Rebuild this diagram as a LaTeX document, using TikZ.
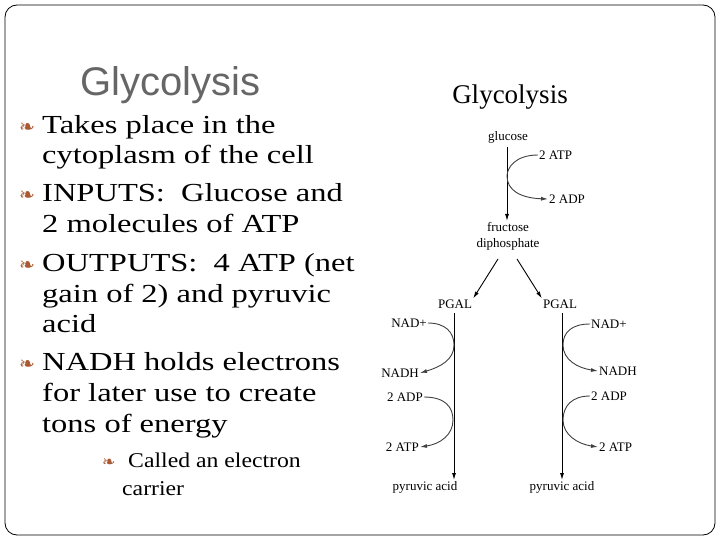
\documentclass[tikz,border=0pt]{standalone}
\usepackage{fontspec}
\setmainfont{Liberation Serif}
\newfontfamily\bigserif[FakeStretch=1.25]{Liberation Serif}
\newfontfamily\subserif[FakeStretch=1.13]{Liberation Serif}
\newfontfamily\headfont{Liberation Sans}
\newfontfamily\symfont{DejaVu Sans}
\usetikzlibrary{arrows.meta}
\definecolor{bul}{RGB}{170,90,50}
\begin{document}
\begin{tikzpicture}[x=1pt,y=-1pt,
  bt/.style={anchor=base west,font=\bigserif\fontsize{26}{26}\selectfont,inner sep=0},
  st/.style={anchor=base west,font=\subserif\fontsize{21}{21}\selectfont,inner sep=0},
  bu/.style={anchor=base west,inner sep=0,text=bul,font=\symfont\fontsize{19}{19}\selectfont},
  lb/.style={font=\fontsize{13}{13}\selectfont,inner sep=1pt},
  ar/.style={-{Latex[length=7pt,width=4pt]},line width=0.9pt},
  cv/.style={-{Latex[length=7pt,width=4pt]},line width=0.9pt,draw=black!75}]
\useasboundingbox (0,0) rectangle (720,540);
\draw[rounded corners=12pt,line width=0.8pt] (5,5) rectangle (715,535);
\node[anchor=base west,inner sep=0,text=black!60,font=\headfont\fontsize{40}{40}\selectfont] (t) at (80,96) {Glycolysis};
% bullets
\foreach \y/\n in {134/b1,202/b2,271/b3,370/b4} \node[bu] (\n) at (19,\y) {❧};
\node[bt] (l1) at (42,134) {Takes place in the};
\node[bt] (l2) at (42,164) {cytoplasm of the cell};
\node[bt] (l3) at (42,202) {INPUTS:\ \ Glucose and};
\node[bt] (l4) at (42,233) {2 molecules of ATP};
\node[bt] (l5) at (42,271) {OUTPUTS:\ \ 4 ATP (net};
\node[bt] (l6) at (42,302) {gain of 2) and pyruvic};
\node[bt] (l7) at (42,332) {acid};
\node[bt] (l8) at (42,370) {NADH holds electrons};
\node[bt] (l9) at (42,401) {for later use to create};
\node[bt] (l10) at (42,432) {tons of energy};
\node[bu,font=\symfont\fontsize{16}{16}\selectfont] (b5) at (102,467) {❧};
\node[st] (l11) at (128,467) {Called an electron};
\node[st] (l12) at (122,495) {carrier};
% diagram
\node[font=\fontsize{27}{27}\selectfont,inner sep=0] (dt) at (510,97) {Glycolysis};
\node[lb] (glu) at (508,137) {glucose};
\node[lb,align=center,font=\fontsize{13}{16}\selectfont] (fd) at (508,236) {fructose\\diphosphate};
\draw[ar] (507,147) -- (507,221);
\node[lb,anchor=west] (atp0) at (538,155) {2 ATP};
\node[lb,anchor=west] (adp0) at (548,199) {2 ADP};
\draw[cv] (atp0.west) .. controls (515,155) and (507,168) .. (507,176) .. controls (507,190) and (520,198) .. (adp0.west);
\node[lb] (pl) at (455,304) {PGAL};
\node[lb] (pr) at (560,304) {PGAL};
\draw[ar] (498,259) -- (pl.north east);
\draw[ar] (517,259) -- (pr.north west);
\node[lb] (pyl) at (425,487) {pyruvic acid};
\node[lb] (pyr) at (562,487) {pyruvic acid};
\draw[ar] (454,313) -- (454,480);
\draw[ar] (562,313) -- (562,480);
% left side
\node[lb,anchor=east] (nl) at (428,323) {NAD+};
\node[lb,anchor=east] (nhl) at (420,373) {NADH};
\node[lb,anchor=east] (dl) at (424,397) {2 ADP};
\node[lb,anchor=east] (al) at (420,447) {2 ATP};
\draw[cv] (nl.east) .. controls (445,323) and (454,332) .. (454,345) .. controls (454,360) and (440,367) .. (nhl.east);
\draw[cv] (dl.east) .. controls (445,397) and (453,407) .. (453,420) .. controls (453,435) and (440,444) .. (al.east);
% right side
\node[lb,anchor=west] (nr) at (590,324) {NAD+};
\node[lb,anchor=west] (nhr) at (598,371) {NADH};
\node[lb,anchor=west] (dr) at (590,396) {2 ADP};
\node[lb,anchor=west] (ar2) at (598,447) {2 ATP};
\draw[cv] (nr.west) .. controls (572,324) and (563,332) .. (563,345) .. controls (563,360) and (578,368) .. (nhr.west);
\draw[cv] (dr.west) .. controls (572,396) and (563,406) .. (563,420) .. controls (563,435) and (578,444) .. (ar2.west);
\end{tikzpicture}
\end{document}
